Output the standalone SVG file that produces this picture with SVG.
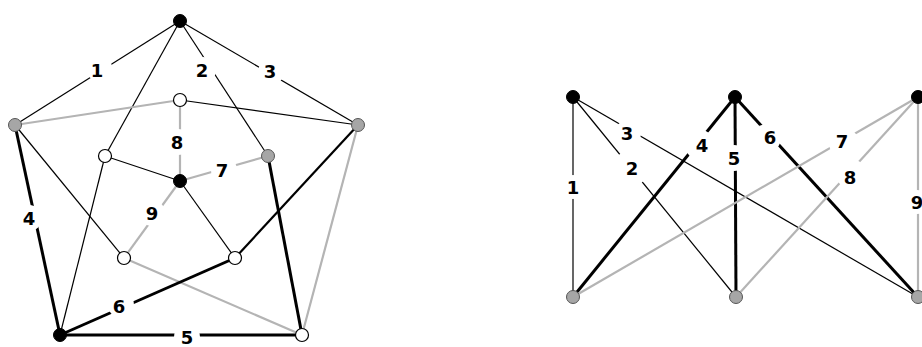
<svg xmlns="http://www.w3.org/2000/svg" width="922" height="347" viewBox="0 0 922 347">
<style>
.thin{stroke:#000;stroke-width:1.2;fill:none}
.gray{stroke:#b4b4b4;stroke-width:2.2;fill:none}
.thick{stroke:#000;stroke-width:3;fill:none}
.med{stroke:#000;stroke-width:2.2;fill:none}
.nb{fill:#000;stroke:#000;stroke-width:1}
.ng{fill:#a6a6a6;stroke:#555;stroke-width:1}
.nw{fill:#fff;stroke:#000;stroke-width:1.2}
.gap{fill:#fff}
.lab{font-family:"DejaVu Sans",Verdana,sans-serif;font-weight:bold;font-size:18px;fill:#000;text-anchor:middle;dominant-baseline:central}
</style>
<rect width="922" height="347" fill="#fff"/>
<g id="connectors">
  <!-- left graph -->
  <line class="thin" x1="180" y1="21" x2="15" y2="125"/>
  <line class="thin" x1="180" y1="21" x2="358" y2="125"/>
  <line class="thin" x1="180" y1="21" x2="268" y2="156"/>
  <line class="thin" x1="180" y1="21" x2="105" y2="156"/>
  <line class="gray" x1="15" y1="125" x2="180" y2="100"/>
  <line class="thin" x1="180" y1="100" x2="358" y2="125"/>
  <line class="gray" x1="180" y1="100" x2="180" y2="181"/>
  <line class="thin" x1="105" y1="156" x2="180" y2="181"/>
  <line class="thin" x1="105" y1="156" x2="60" y2="335"/>
  <line class="gray" x1="268" y1="156" x2="180" y2="181"/>
  <line class="thick" x1="268" y1="156" x2="302" y2="335"/>
  <line class="gray" x1="180" y1="181" x2="124" y2="258"/>
  <line class="thin" x1="180" y1="181" x2="235" y2="258"/>
  <line class="thick" x1="15" y1="125" x2="60" y2="335"/>
  <line class="thin" x1="15" y1="125" x2="124" y2="258"/>
  <line class="gray" x1="358" y1="125" x2="302" y2="335"/>
  <line class="med" x1="358" y1="125" x2="235" y2="258"/>
  <line class="gray" x1="124" y1="258" x2="302" y2="335"/>
  <line class="thick" x1="60" y1="335" x2="235" y2="258"/>
  <line class="thick" x1="60" y1="335" x2="302" y2="335"/>
  <!-- right graph -->
  <line class="thin" x1="573" y1="97" x2="573" y2="297"/>
  <line class="thin" x1="573" y1="97" x2="736" y2="297"/>
  <line class="thin" x1="573" y1="97" x2="918" y2="297"/>
  <line class="thick" x1="735" y1="97" x2="573" y2="297"/>
  <line class="thick" x1="735" y1="97" x2="736" y2="297"/>
  <line class="thick" x1="735" y1="97" x2="918" y2="297"/>
  <line class="gray" x1="918" y1="97" x2="573" y2="297"/>
  <line class="gray" x1="918" y1="97" x2="736" y2="297"/>
  <line class="gray" x1="918" y1="97" x2="918" y2="297"/>
</g>
<g id="labels">
  <circle class="gap" cx="99" cy="68" r="13"/><text class="lab" x="97" y="70">1</text>
  <circle class="gap" cx="203" cy="70" r="13"/><text class="lab" x="202" y="70">2</text>
  <circle class="gap" cx="271" cy="72" r="13"/><text class="lab" x="270" y="71">3</text>
  <circle class="gap" cx="178" cy="142" r="13"/><text class="lab" x="177" y="142">8</text>
  <circle class="gap" cx="224" cy="170" r="13"/><text class="lab" x="222" y="170">7</text>
  <circle class="gap" cx="152" cy="213" r="13"/><text class="lab" x="152" y="213">9</text>
  <circle class="gap" cx="29" cy="218" r="13"/><text class="lab" x="29" y="218">4</text>
  <circle class="gap" cx="121" cy="305" r="13"/><text class="lab" x="119" y="306">6</text>
  <circle class="gap" cx="187" cy="337" r="13"/><text class="lab" x="187" y="337">5</text>
  <circle class="gap" cx="573" cy="187" r="12"/><text class="lab" x="573" y="187">1</text>
  <circle class="gap" cx="630" cy="169" r="18"/><text class="lab" x="632" y="168">2</text>
  <circle class="gap" cx="628" cy="133" r="13"/><text class="lab" x="627" y="133">3</text>
  <circle class="gap" cx="700" cy="145" r="15"/><text class="lab" x="702" y="145">4</text>
  <circle class="gap" cx="734" cy="158" r="13"/><text class="lab" x="734" y="158">5</text>
  <circle class="gap" cx="767" cy="138" r="14"/><text class="lab" x="770" y="137">6</text>
  <circle class="gap" cx="844" cy="143" r="15"/><text class="lab" x="842" y="141">7</text>
  <circle class="gap" cx="851" cy="174" r="15"/><text class="lab" x="850" y="177">8</text>
  <circle class="gap" cx="917" cy="202" r="12"/><text class="lab" x="917" y="202">9</text>
</g>
<g id="nodeL-top"><circle class="nb" cx="180" cy="21" r="6.5"/></g>
<g id="nodeL-leftOuter"><circle class="ng" cx="15" cy="125" r="6.5"/></g>
<g id="nodeL-rightOuter"><circle class="ng" cx="358" cy="125" r="6.5"/></g>
<g id="nodeL-bottomLeft"><circle class="nb" cx="60" cy="335" r="6.5"/></g>
<g id="nodeL-bottomRight"><circle class="nw" cx="302" cy="335" r="6.5"/></g>
<g id="nodeL-innerTop"><circle class="nw" cx="180" cy="100" r="6.5"/></g>
<g id="nodeL-innerLeft"><circle class="nw" cx="105" cy="156" r="6.5"/></g>
<g id="nodeL-innerRight"><circle class="ng" cx="268" cy="156" r="6.5"/></g>
<g id="nodeL-center"><circle class="nb" cx="180" cy="181" r="6.5"/></g>
<g id="nodeL-innerBL"><circle class="nw" cx="124" cy="258" r="6.5"/></g>
<g id="nodeL-innerBR"><circle class="nw" cx="235" cy="258" r="6.5"/></g>
<g id="nodeR-topLeft"><circle class="nb" cx="573" cy="97" r="6.5"/></g>
<g id="nodeR-topMid"><circle class="nb" cx="735" cy="97" r="6.5"/></g>
<g id="nodeR-topRight"><circle class="nb" cx="918" cy="97" r="6.5"/></g>
<g id="nodeR-bottomLeft"><circle class="ng" cx="573" cy="297" r="6.5"/></g>
<g id="nodeR-bottomMid"><circle class="ng" cx="736" cy="297" r="6.5"/></g>
<g id="nodeR-bottomRight"><circle class="ng" cx="918" cy="297" r="6.5"/></g>
</svg>
